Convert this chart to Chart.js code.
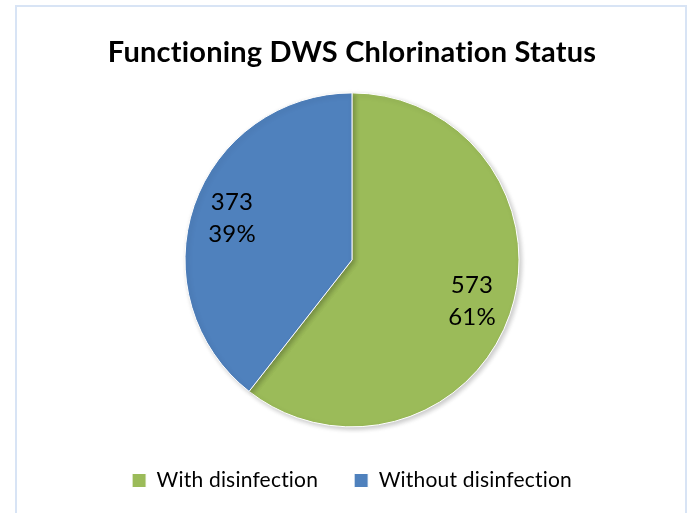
<!DOCTYPE html>
<html>
<head>
<meta charset="utf-8">
<script src="https://cdn.jsdelivr.net/npm/chart.js@4"></script>
<style>
  body { margin: 0; background: #fff; }
  canvas { display: block; }
</style>
</head>
<body>
<canvas id="chlorinationChart" width="692" height="513"></canvas>
<script>
var categories = ['With disinfection', 'Without disinfection'];
var counts = [573, 373];
var percents = ['61%', '39%'];
var colours = ['#9BBB59', '#4F81BD'];

// a tiny letter spacing keeps Lato from drawing the "ti" ligature
var noLigatures = {
    id: 'noLigatures',
    beforeLayout: function (chart) { chart.ctx.letterSpacing = '0.2px'; },
    beforeDraw: function (chart) { chart.ctx.letterSpacing = '0.2px'; }
};

// frame around the chart, like the Excel chart border
var framePlugin = {
    id: 'frame',
    beforeDraw: function (chart) {
        var ctx = chart.ctx;
        ctx.save();
        ctx.strokeStyle = '#d8e4f5';
        ctx.lineWidth = 2;
        ctx.strokeRect(16, 6, 670, 520);
        ctx.restore();
    }
};

// soft shadow under the pie
var shadowPlugin = {
    id: 'pieShadow',
    beforeDatasetsDraw: function (chart) {
        var ctx = chart.ctx;
        ctx.save();
        ctx.shadowColor = 'rgba(0, 0, 0, 0.22)';
        ctx.shadowBlur = 5;
        ctx.shadowOffsetX = 2;
        ctx.shadowOffsetY = 2;
    },
    afterDatasetsDraw: function (chart) {
        chart.ctx.restore();
    }
};

// value + percent labels inside each slice
var sliceLabels = {
    id: 'sliceLabels',
    afterDatasetsDraw: function (chart) {
        var ctx = chart.ctx;
        var meta = chart.getDatasetMeta(0);
        ctx.save();
        ctx.font = '24px Lato';
        ctx.fillStyle = '#000';
        ctx.textAlign = 'center';
        ctx.textBaseline = 'middle';
        meta.data.forEach(function (arc, i) {
            var p = arc.getProps(['x', 'y', 'startAngle', 'endAngle', 'outerRadius'], true);
            var mid = (p.startAngle + p.endAngle) / 2;
            var r = p.outerRadius * 0.76;
            var x = p.x + Math.cos(mid) * r;
            var y = p.y + Math.sin(mid) * r;
            ctx.fillText(String(counts[i]), x, y - 16);
            ctx.fillText(percents[i], x, y + 16);
        });
        ctx.restore();
    }
};

var ctx1 = document.getElementById('chlorinationChart').getContext('2d');
var chlorinationChart = new Chart(ctx1, {
    type: 'pie',
    data: {
        labels: categories,
        datasets: [{
            data: counts,
            backgroundColor: colours,
            borderColor: '#ffffff',
            borderWidth: 1,
            radius: 167
        }]
    },
    options: {
        responsive: false,
        animation: false,
        layout: {
            padding: { top: 0, left: 12, right: 0, bottom: 19 }
        },
        plugins: {
            title: {
                display: true,
                text: 'Functioning DWS Chlorination Status',
                color: '#000',
                font: { family: 'Lato', size: 29, weight: 'bold', lineHeight: 1.2 },
                padding: { top: 35, bottom: 16 }
            },
            legend: {
                position: 'bottom',
                maxHeight: 60,
                labels: {
                    color: '#000',
                    boxWidth: 14,
                    boxHeight: 14,
                    padding: 36,
                    font: { family: 'Lato', size: 21 }
                }
            },
            tooltip: { enabled: false }
        }
    },
    plugins: [noLigatures, framePlugin, shadowPlugin, sliceLabels]
});
</script>
</body>
</html>
